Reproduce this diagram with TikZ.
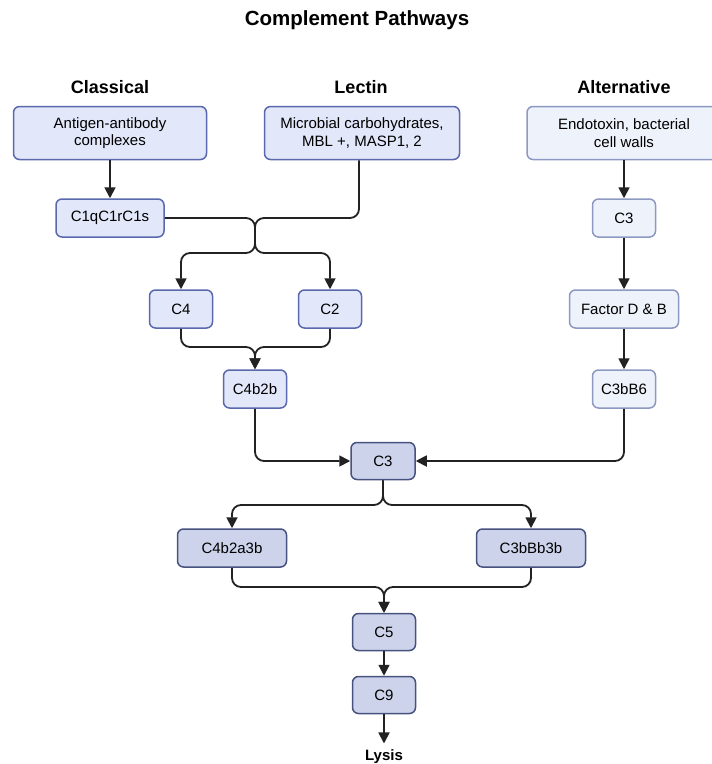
\documentclass[tikz,border=0pt]{standalone}
\usepackage{fontspec}
\setmainfont{Liberation Sans}
\usetikzlibrary{arrows.meta}
\definecolor{clsfill}{HTML}{E2E7F9}
\definecolor{clsline}{HTML}{5A68AE}
\definecolor{altfill}{HTML}{EEF2FB}
\definecolor{altline}{HTML}{8D99C2}
\definecolor{comfill}{HTML}{CCD3EA}
\definecolor{comline}{HTML}{47527F}
\definecolor{linecol}{HTML}{222222}

\begin{document}
\begin{tikzpicture}[x=1pt,y=-1pt,
  cls node/.style={shape=rectangle,rounded corners=6pt,draw=clsline,fill=clsfill,line width=1.5pt,font=\fontsize{15}{17.5}\selectfont,align=center,inner sep=0},
  alt node/.style={cls node,draw=altline,fill=altfill},
  com node/.style={cls node,draw=comline,fill=comfill},
  head node/.style={font=\fontsize{18}{20}\selectfont\bfseries},
  link/.style={draw=linecol,line width=1.8pt,rounded corners=9pt,-{Triangle[length=11pt,width=11pt]}}]
		\useasboundingbox (0,0) rectangle (712,764);
		\node[font=\fontsize{20.5}{24}\selectfont\bfseries] (title) at (357,20){Complement Pathways};
		\node[head node] (hcls) at (110,87){Classical};
		\node[head node] (hlec) at (361,87){Lectin};
		\node[head node] (halt) at (624,87){Alternative};
		%top row
		\node[cls node,minimum width=193pt,minimum height=53pt] (antigen) at (110,133){Antigen-antibody\\complexes};
		\node[cls node,minimum width=195pt,minimum height=53pt] (microbial) at (362,133){Microbial carbohydrates,\\MBL +, MASP1, 2};
		\node[alt node,minimum width=194pt,minimum height=53pt] (endotoxin) at (624,133){Endotoxin, bacterial\\cell walls};
		%classical + lectin
		\node[cls node,minimum width=108pt,minimum height=38pt] (c1q) at (110,218){C1qC1rC1s};
		\node[cls node,minimum width=63pt,minimum height=38pt] (c4) at (181,309){C4};
		\node[cls node,minimum width=63pt,minimum height=38pt] (c2) at (330,309){C2};
		\node[cls node,minimum width=63pt,minimum height=38pt] (c4b2b) at (255,389){C4b2b};
		%alternative
		\node[alt node,minimum width=63pt,minimum height=38pt] (c3alt) at (624,218){C3};
		\node[alt node,minimum width=109pt,minimum height=38pt] (factor) at (624,309){Factor D \& B};
		\node[alt node,minimum width=63pt,minimum height=38pt] (c3bb6) at (624,389){C3bB6};
		%common
		\node[com node,minimum width=64pt,minimum height=37pt] (c3) at (383,461){C3};
		\node[com node,minimum width=109pt,minimum height=38pt] (c4b2a3b) at (232,548){C4b2a3b};
		\node[com node,minimum width=109pt,minimum height=38pt] (c3bbb3b) at (531,548){C3bBb3b};
		\node[com node,minimum width=63pt,minimum height=37pt] (c5) at (384,632){C5};
		\node[com node,minimum width=63pt,minimum height=37pt] (c9) at (384,695){C9};
		\node[font=\fontsize{15}{17.5}\selectfont\bfseries] (lysis) at (384,757){Lysis};

		\draw[link] (antigen) -- (c1q);
		\draw[link] (c1q.east) -- (255,218) -- (255,253) -| (c4.north);
		\draw[link] ([xshift=-3pt]microbial.south) |- (255,218) -- (255,253) -| (c2.north);
		\draw[link] (c4.south) |- (255,347) -- (c4b2b.north);
		\draw[link] (c2.south) |- (255,347) -- (c4b2b.north);
		\draw[link] (c4b2b.south) |- (c3.west);
		\draw[link] (endotoxin) -- (c3alt);
		\draw[link] (c3alt) -- (factor);
		\draw[link] (factor) -- (c3bb6);
		\draw[link] (c3bb6.south) |- (c3.east);
		\draw[link] (c3.south) -- (383,505) -| (c4b2a3b.north);
		\draw[link] (c3.south) -- (383,505) -| (c3bbb3b.north);
		\draw[link] (c4b2a3b.south) |- (384,587) -- (c5.north);
		\draw[link] (c3bbb3b.south) |- (384,587) -- (c5.north);
		\draw[link] (c5) -- (c9);
		\draw[link,shorten >=3pt] (c9) -- (lysis);
\end{tikzpicture}
\end{document}
